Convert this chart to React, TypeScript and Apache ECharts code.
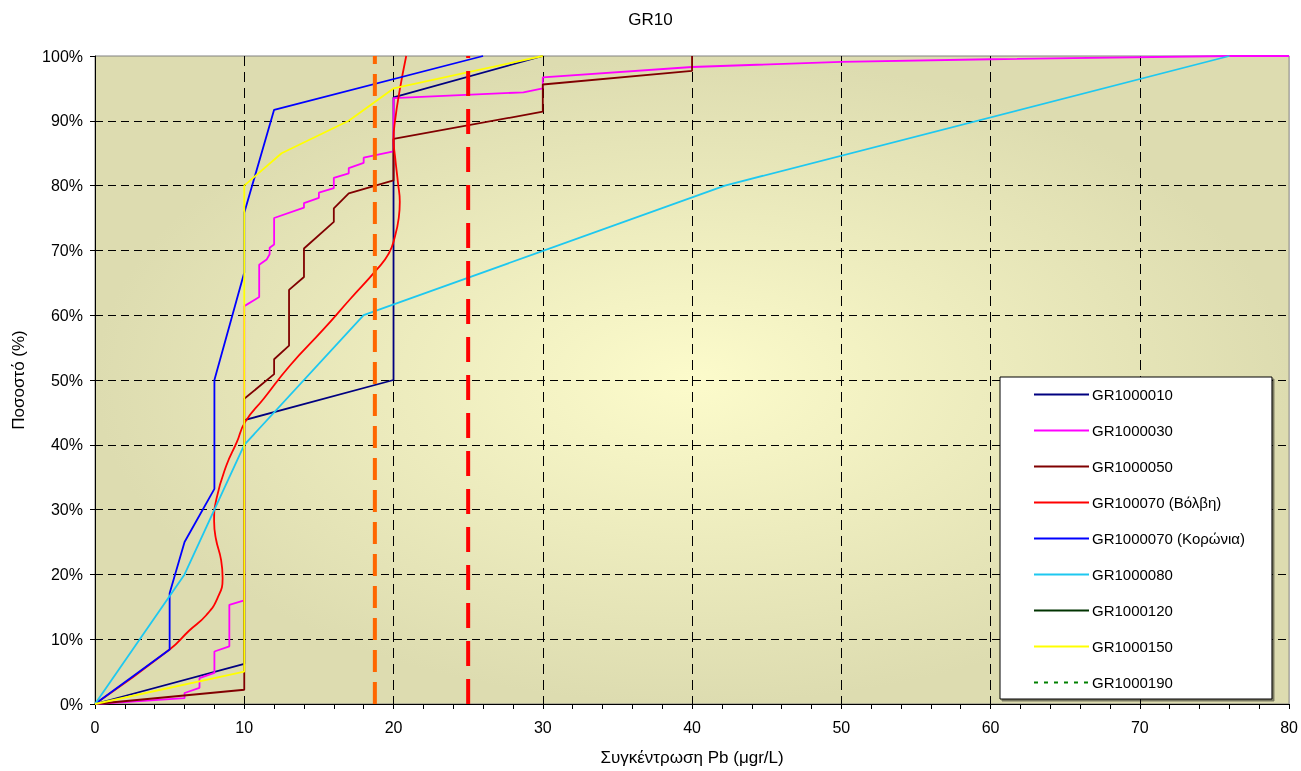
import React, { useEffect, useRef } from "react";
import * as echarts from "echarts";

const FONT = "'Liberation Sans', Arial, Helvetica, sans-serif";

const titleText = "GR10";
const xAxisName = "Συγκέντρωση Pb (μgr/L)";
const yAxisName = "Ποσοστό (%)";

const seriesNames = [
  "GR1000010",
  "GR1000030",
  "GR1000050",
  "GR100070 (Βόλβη)",
  "GR1000070 (Κορώνια)",
  "GR1000080",
  "GR1000120",
  "GR1000150",
  "GR1000190",
];
const seriesColors = ["#000080", "#ff00ff", "#800000", "#ff0000", "#0000ff", "#1ec8f0", "#003300", "#ffff00", "#008000"];

// [concentration, cumulative %]
const gr1000010 = [[0, 0], [10, 6.2], [10, 43.8], [20, 50], [20, 93.6], [30, 100]];
const gr1000030 = [
  [0, 0], [6, 0.9], [6, 1.7], [7, 2.5], [7, 4.0], [8, 4.8], [8, 8.1], [9, 8.9], [9, 15.3], [10, 16.0],
  [10, 61.4], [11, 62.8], [11, 67.8], [11.5, 68.6], [11.7, 69.4], [11.7, 70.4], [12, 70.9], [12, 75.0],
  [14, 76.6], [14, 77.3], [15, 78.1], [15, 78.9], [16, 79.6], [16, 81.2], [17, 81.9], [17, 82.7],
  [18, 83.5], [18, 84.3], [20, 85.3], [20, 93.5], [28.7, 94.4], [30, 95.0], [30, 96.7], [40, 98.3],
  [50, 99.1], [60, 99.5], [76, 100], [80, 100],
];
const gr1000050 = [
  [0, 0], [10, 2.2], [10, 47.1], [12, 50.9], [12, 53.2], [13, 55.3], [13, 63.9], [14, 65.9], [14, 70.3],
  [16, 74.4], [16, 76.5], [17, 78.8], [20, 80.8], [20, 87.2], [30, 91.4], [30, 95.6], [40, 97.7], [40, 100],
];
const gr100070 = [
  [0, 0], [5, 8.4], [6.3, 11.3], [7.45, 13.7], [8.2, 16.3], [8.55, 19.4], [8.45, 22.2],
  [8.1, 25.5], [7.98, 28.2], [8.14, 31.7], [8.8, 36.8], [9.5, 40.4], [10.05, 43.5], [11.3, 47.1],
  [13.05, 52.2], [15.3, 57.8], [17.1, 62.5], [18.9, 67.1], [19.7, 69.6], [20.1, 72.2], [20.35, 75],
  [20.42, 77.5], [20.3, 80.4], [20.1, 84.5], [20.0, 87.1], [20.1, 90], [20.42, 94.8], [20.85, 100],
];
const gr1000070 = [[0, 0], [5, 8.4], [5, 17.1], [6, 25], [8, 33.2], [8, 50], [10, 66.6], [10, 75.8], [12, 91.7], [26, 100]];
const gr1000080 = [[0, 0], [6, 20], [10, 40], [18, 60], [42.2, 80], [76, 100]];
const gr1000120: number[][] = [];
const gr1000150 = [[0, 0], [10, 5], [10, 80], [12.5, 85], [17, 90], [20, 95], [30, 100]];
const gr1000190: number[][] = [];

const seriesData = [gr1000010, gr1000030, gr1000050, gr100070, gr1000070, gr1000080, gr1000120, gr1000150, gr1000190];

const orangeLimit = 18.75;
const redLimit = 25;

export default function App() {
  const ref = useRef<HTMLDivElement>(null);
  useEffect(() => {
    if (!ref.current) return;
    const chart = echarts.init(ref.current, undefined, { renderer: "svg" });

    const dataSeries: any[] = seriesNames.map((name, i) => ({
      name,
      type: "line",
      data: seriesData[i],
      symbol: "none",
      showSymbol: false,
      smooth: i === 3 ? 0.5 : false,
      lineStyle: { color: seriesColors[i], width: 1.8, type: i === 8 ? [4, 6] : "solid" },
      itemStyle: { color: seriesColors[i] },
      emphasis: { disabled: true },
      z: 3,
    }));

    dataSeries.push({
      name: "limit-orange",
      type: "line",
      data: [[orangeLimit, 0], [orangeLimit, 100]],
      symbol: "none",
      lineStyle: { color: "#ff6600", width: 4, type: [22, 10] },
      emphasis: { disabled: true },
      silent: true,
      z: 4,
    });
    dataSeries.push({
      name: "limit-red",
      type: "line",
      data: [[redLimit, 0], [redLimit, 100]],
      symbol: "none",
      lineStyle: { color: "#ff0000", width: 4, type: [25, 13] },
      emphasis: { disabled: true },
      silent: true,
      z: 4,
    });

    chart.setOption({
      animation: false,
      textStyle: { fontFamily: FONT, color: "#000" },
      title: {
        text: titleText,
        left: "center",
        top: 6,
        textStyle: { fontFamily: FONT, fontSize: 17, fontWeight: "normal", color: "#000" },
      },
      grid: {
        left: 95,
        top: 56,
        width: 1195,
        height: 650,
        show: true,
        borderColor: "#808080",
        borderWidth: 1,
        backgroundColor: new echarts.graphic.RadialGradient(0.5, 0.5, 0.5, [
          { offset: 0, color: "#fcfbcb" },
          { offset: 1, color: "#dddcb0" },
        ]),
      },
      legend: {
        data: seriesNames,
        orient: "vertical",
        left: 1000,
        top: 377,
        padding: [10, 27, 9, 33],
        itemWidth: 55,
        itemHeight: 14,
        itemGap: 21,
        backgroundColor: "#ffffff",
        borderColor: "#000000",
        borderWidth: 1,
        shadowColor: "rgba(0,0,0,0.45)",
        shadowOffsetX: 2,
        shadowOffsetY: 2,
        shadowBlur: 0,
        selectedMode: false,
        itemStyle: { opacity: 0 },
        textStyle: { fontFamily: FONT, fontSize: 15, color: "#000", padding: [0, 0, 0, -2] },
      },
      xAxis: {
        type: "value",
        min: 0,
        max: 80,
        interval: 10,
        name: xAxisName,
        nameLocation: "middle",
        nameGap: 45,
        nameTextStyle: { fontFamily: FONT, fontSize: 17, color: "#000" },
        axisLine: { show: true, lineStyle: { color: "#000", width: 1 } },
        axisTick: { show: true, length: 5, lineStyle: { color: "#000" } },
        minorTick: { show: true, splitNumber: 5, length: 5, lineStyle: { color: "#000" } },
        axisLabel: { margin: 15, fontFamily: FONT, fontSize: 16, color: "#000" },
        splitLine: {
          show: true,
          showMinLine: false,
          showMaxLine: false,
          lineStyle: { color: "#000", width: 1, type: [10, 6] },
        },
      },
      yAxis: {
        type: "value",
        min: 0,
        max: 100,
        interval: 10,
        name: yAxisName,
        nameLocation: "middle",
        nameGap: 68,
        nameRotate: 90,
        nameTextStyle: { fontFamily: FONT, fontSize: 17, color: "#000" },
        axisLine: { show: true, lineStyle: { color: "#000", width: 1 } },
        axisTick: { show: true, length: 5, lineStyle: { color: "#000" } },
        axisLabel: { margin: 12, fontFamily: FONT, fontSize: 16, color: "#000", formatter: "{value}%" },
        splitLine: {
          show: true,
          showMinLine: false,
          showMaxLine: false,
          lineStyle: { color: "#000", width: 1, type: [8, 5] },
        },
      },
      series: dataSeries,
    });

    return () => {
      chart.dispose();
    };
  }, []);

  return <div ref={ref} style={{ position: "fixed", left: 0, top: 0, width: 1301, height: 771 }} />;
}
